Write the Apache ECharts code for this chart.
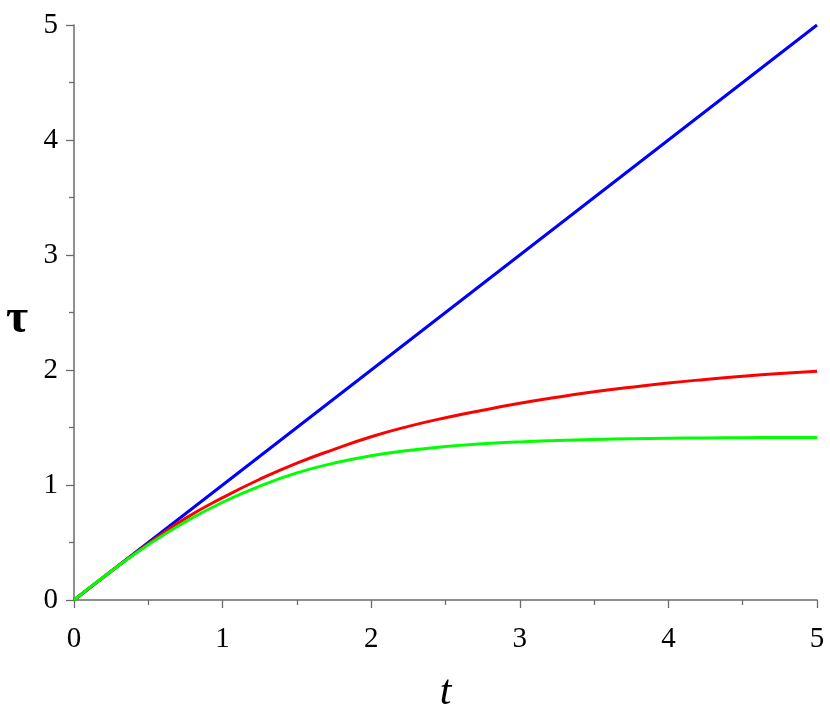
<!DOCTYPE html>
<html>
<head>
<meta charset="utf-8">
<script src="https://cdn.jsdelivr.net/npm/echarts@6/dist/echarts.min.js"></script>
<style>
  html, body { margin: 0; padding: 0; background: #fff; }
  #chart { width: 830px; height: 720px; }
</style>
</head>
<body>
<div id="chart"></div>
<script>
// t values, step 0.25
const tValues = [0, 0.25, 0.5, 0.75, 1, 1.25, 1.5, 1.75, 2, 2.25, 2.5,
  2.75, 3, 3.25, 3.5, 3.75, 4, 4.25, 4.5, 4.75, 5]
// blue: straight line
const blueTau = [0, 0.25, 0.5, 0.75, 1, 1.25, 1.5, 1.75, 2, 2.25, 2.5,
  2.75, 3, 3.25, 3.5, 3.75, 4, 4.25, 4.5, 4.75, 5]
// red curve
const redTau = [0, 0.25, 0.49, 0.71, 0.89, 1.05, 1.19, 1.31, 1.42, 1.51, 1.585,
  1.65, 1.71, 1.763, 1.81, 1.85, 1.887, 1.918, 1.946, 1.97, 1.99]
// green curve
const greenTau = [0, 0.25, 0.48, 0.68, 0.85, 0.99, 1.105, 1.19, 1.255, 1.30, 1.335,
  1.358, 1.375, 1.387, 1.396, 1.402, 1.406, 1.409, 1.411, 1.413, 1.414]
const tickLabels = ['0', '1', '2', '3', '4', '5']

const pairs = (ys) => tValues.map((t, i) => [t, ys[i]])

const axisColor = '#6b6b6b'
const serif = '"Liberation Serif", "Times New Roman", serif'

function axisCommon(labelMargin) {
  return {
    type: 'value',
    min: 0,
    max: 5,
    interval: 1,
    splitLine: { show: false },
    axisLine: { show: true, onZero: false, lineStyle: { color: axisColor, width: 1.5 } },
    axisTick: { show: true, inside: false, length: 8, lineStyle: { color: axisColor, width: 1.3 } },
    minorTick: { show: true, splitNumber: 2, length: 5, lineStyle: { color: axisColor, width: 1.3 } },
    axisLabel: {
      formatter: (v) => tickLabels[Math.round(v)] ?? '',
      fontFamily: serif,
      fontSize: 29,
      color: '#000',
      margin: labelMargin
    }
  }
}

const chart = echarts.init(document.getElementById('chart'))
const option = {
  animation: false,
  grid: { left: 74, right: 13, top: 25, bottom: 120 },
  // y axis title
  graphic: [
    {
      type: 'text',
      left: 6,
      top: 296,
      style: {
        text: 'τ',
        fontFamily: serif,
        fontWeight: 'bold',
        fontSize: 48,
        fill: '#000'
      }
    }
  ],
  xAxis: Object.assign(axisCommon(25), {
    name: 't',
    nameLocation: 'middle',
    nameGap: 72,
    nameTextStyle: {
      fontFamily: serif,
      fontStyle: 'italic',
      fontSize: 42,
      color: '#000'
    }
  }),
  yAxis: axisCommon(16),
  series: [
    {
      name: 'blue',
      type: 'line',
      data: pairs(blueTau),
      showSymbol: false,
      lineStyle: { color: '#0000ff', width: 3 }
    },
    {
      name: 'red',
      type: 'line',
      data: pairs(redTau),
      smooth: true,
      showSymbol: false,
      lineStyle: { color: '#ff0000', width: 3 }
    },
    {
      name: 'green',
      type: 'line',
      data: pairs(greenTau),
      smooth: true,
      showSymbol: false,
      lineStyle: { color: '#00ff00', width: 3 }
    }
  ]
}
chart.setOption(option)
</script>
</body>
</html>
